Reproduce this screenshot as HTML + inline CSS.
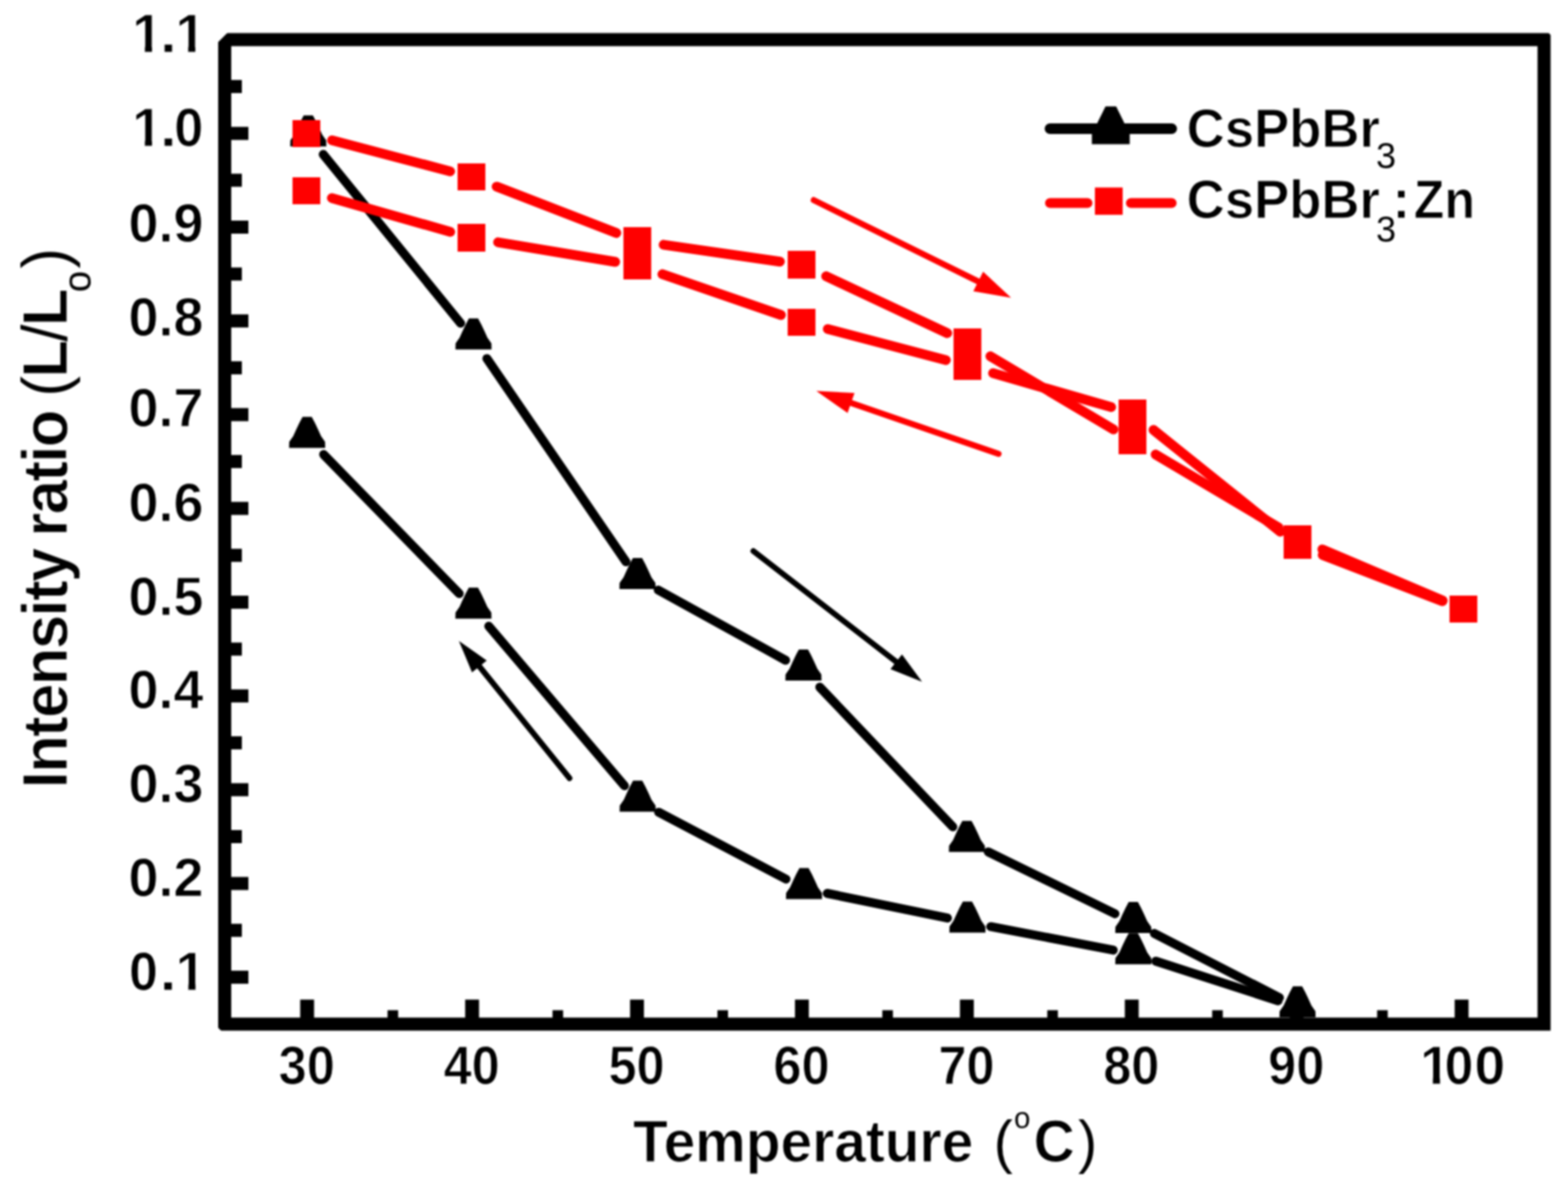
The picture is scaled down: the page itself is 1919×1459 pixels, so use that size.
<!DOCTYPE html>
<html><head><meta charset="utf-8"><title>Intensity ratio vs Temperature</title>
<style>html,body{margin:0;padding:0;background:#fff;overflow:hidden}svg{display:block}</style>
</head><body>
<svg width="1919" height="1459" viewBox="0 0 1919 1459">
<rect x="0" y="0" width="1919" height="1459" fill="#fff"/>
<defs><filter id="soft" x="-5%" y="-5%" width="110%" height="110%" color-interpolation-filters="sRGB"><feGaussianBlur stdDeviation="0.9"/></filter></defs>
<g filter="url(#soft)">
<defs><clipPath id="one" clipPathUnits="userSpaceOnUse"><polygon points="-10,-100 60,-100 60,-8.9 24.30,-8.9 24.30,5 15.60,5 15.60,-8.9 -10,-8.9"/></clipPath></defs>
<g>
<path d="M395.6 189.0L563.7 395.6M595.9 438.9L766.1 687.6M805.6 722.2L961.4 808.1M1003.3 841.1L1166.1 1012.0M1209.5 1042.8L1364.5 1118.4M1412.8 1142.6L1565.8 1221.1" stroke="#000" stroke-width="11" stroke-linecap="round" fill="none"/>
<path d="M1414.6 1176.5L1564.2 1224.9M1212.5 1134.2L1362.4 1162.9M1012.4 1093.5L1159.5 1123.7M806.1 994.2L961.9 1076.0M598.2 766.5L764.2 961.7M396.1 556.3L562.0 726.5" stroke="#000" stroke-width="11" stroke-linecap="round" fill="none"/>
</g>
<g fill="#000">
<polygon points="371.7,141.3 382.9,141.3 386.9,148.8 390.7,156.8 394.3,164.8 399.2,171.8 399.4,179.3 355.2,179.3 355.4,171.8 360.3,164.8 363.9,156.8 367.7,148.8"/>
<polygon points="370.3,510.3 381.5,510.3 385.5,517.8 389.3,525.8 392.9,533.8 397.8,540.8 398.0,548.3 353.8,548.3 354.0,540.8 358.9,533.8 362.5,525.8 366.3,517.8"/>
<polygon points="573.9,389.7 585.1,389.7 589.1,397.2 592.9,405.2 596.5,413.2 601.4,420.2 601.6,427.7 557.4,427.7 557.6,420.2 562.5,413.2 566.1,405.2 569.9,397.2"/>
<polygon points="573.8,719.2 585.0,719.2 589.0,726.7 592.8,734.7 596.4,742.7 601.3,749.7 601.5,757.2 557.3,757.2 557.5,749.7 562.4,742.7 566.0,734.7 569.8,726.7"/>
<polygon points="774.6,683.0 785.8,683.0 789.8,690.5 793.6,698.5 797.2,706.5 802.1,713.5 802.3,721.0 758.1,721.0 758.3,713.5 763.2,706.5 766.8,698.5 770.6,690.5"/>
<polygon points="774.8,955.5 786.0,955.5 790.0,963.0 793.8,971.0 797.4,979.0 802.3,986.0 802.5,993.5 758.3,993.5 758.5,986.0 763.4,979.0 767.0,971.0 770.8,963.0"/>
<polygon points="977.7,794.9 988.9,794.9 992.9,802.4 996.7,810.4 1000.3,818.4 1005.2,825.4 1005.4,832.9 961.2,832.9 961.4,825.4 966.3,818.4 969.9,810.4 973.7,802.4"/>
<polygon points="978.4,1062.4 989.6,1062.4 993.6,1069.9 997.4,1077.9 1001.0,1085.9 1005.9,1092.9 1006.1,1100.4 961.9,1100.4 962.1,1092.9 967.0,1085.9 970.6,1077.9 974.4,1069.9"/>
<polygon points="1177.8,1004.8 1189.0,1004.8 1193.0,1012.3 1196.8,1020.3 1200.4,1028.3 1205.3,1035.3 1205.5,1042.8 1161.3,1042.8 1161.5,1035.3 1166.4,1028.3 1170.0,1020.3 1173.8,1012.3"/>
<polygon points="1178.4,1103.5 1189.6,1103.5 1193.6,1111.0 1197.4,1119.0 1201.0,1127.0 1205.9,1134.0 1206.1,1141.5 1161.9,1141.5 1162.1,1134.0 1167.0,1127.0 1170.6,1119.0 1174.4,1111.0"/>
<polygon points="1381.4,1104.1 1392.6,1104.1 1396.6,1111.6 1400.4,1119.6 1404.0,1127.6 1408.9,1134.6 1409.1,1142.1 1364.9,1142.1 1365.1,1134.6 1370.0,1127.6 1373.6,1119.6 1377.4,1111.6"/>
<polygon points="1381.4,1142.3 1392.6,1142.3 1396.6,1149.8 1400.4,1157.8 1404.0,1165.8 1408.9,1172.8 1409.1,1180.3 1364.9,1180.3 1365.1,1172.8 1370.0,1165.8 1373.6,1157.8 1377.4,1149.8"/>
<polygon points="1582.4,1207.3 1593.6,1207.3 1597.6,1214.8 1601.4,1222.8 1605.0,1230.8 1609.9,1237.8 1610.1,1245.3 1565.9,1245.3 1566.1,1237.8 1571.0,1230.8 1574.6,1222.8 1578.4,1214.8"/>
</g>
<path d="M406.4 171.8L550.9 209.7M607.8 228.4L754.3 285.2M812.2 299.6L954.5 320.2M1011.1 338.1L1159.3 407.7M1212.1 436.1L1362.7 525.6M1414.3 556.3L1564.8 645.7M1618.4 672.4L1765.6 734.9" stroke="#ff0000" stroke-width="12" stroke-linecap="round" fill="none"/>
<path d="M1618.8 679.4L1765.3 735.8M1411.7 526.3L1566.9 650.7M1215.4 456.8L1359.9 498.3M1013.1 402.7L1157.6 440.8M810.7 335.6L955.7 385.5M609.6 296.6L752.9 320.5M406.2 242.4L551.0 283.8" stroke="#ff0000" stroke-width="12" stroke-linecap="round" fill="none"/>
<g fill="#ff0000" shape-rendering="crispEdges">
<rect x="357.5" y="146.6" width="34" height="33.6"/>
<rect x="357.5" y="216.5" width="34" height="33.6"/>
<rect x="560.0" y="199.7" width="34" height="33.6"/>
<rect x="560.0" y="274.4" width="34" height="33.6"/>
<rect x="762.5" y="278.1" width="34" height="33.6"/>
<rect x="762.5" y="308.1" width="34" height="33.6"/>
<rect x="964.2" y="307.3" width="34" height="33.6"/>
<rect x="964.2" y="377.5" width="34" height="33.6"/>
<rect x="1166.7" y="402.4" width="34" height="33.6"/>
<rect x="1166.7" y="430.9" width="34" height="33.6"/>
<rect x="1368.9" y="488.9" width="34" height="33.6"/>
<rect x="1368.9" y="522.6" width="34" height="33.6"/>
<rect x="1571.0" y="642.7" width="34" height="33.6"/>
<rect x="1571.0" y="650.8" width="34" height="33.6"/>
<rect x="1773.5" y="728.7" width="34" height="33.6"/>
</g>
<path d="M996.0 245.0L1202.5 347.2" stroke="#ff0000" stroke-width="7.5" stroke-linecap="round" fill="none"/><polygon fill="#ff0000" points="1237.5,364.5 1191.2,356.6 1203.2,332.4"/>
<path d="M1222.0 555.5L1035.9 491.2" stroke="#ff0000" stroke-width="7.5" stroke-linecap="round" fill="none"/><polygon fill="#ff0000" points="999.0,478.5 1045.8,480.9 1037.3,505.5"/>
<path d="M922.0 674.5L1101.6 813.7" stroke="#000" stroke-width="7" stroke-linecap="round" fill="none"/><polygon fill="#000" points="1128.5,834.5 1089.8,819.1 1103.9,800.9"/>
<path d="M697.0 952.5L582.9 811.0" stroke="#000" stroke-width="7" stroke-linecap="round" fill="none"/><polygon fill="#000" points="561.6,784.5 595.7,808.4 577.7,822.9"/>
<rect x="275.0" y="48.5" width="1614.7" height="1205.0" fill="none" stroke="#000" stroke-width="16" stroke-linejoin="miter"/>
<g fill="#fff"><polygon points="264,38 280.5,38 264,54.5"/><polygon points="264,1255 264,1263 272,1263"/><polygon points="1893,38 1899.5,38 1899.5,44.5"/></g>
<g fill="#000"><rect x="282.0" y="1188.1" width="22" height="16"/><rect x="282.0" y="1130.7" width="14" height="16"/><rect x="282.0" y="1073.4" width="22" height="16"/><rect x="282.0" y="1016.0" width="14" height="16"/><rect x="282.0" y="958.6" width="22" height="16"/><rect x="282.0" y="901.2" width="14" height="16"/><rect x="282.0" y="843.8" width="22" height="16"/><rect x="282.0" y="786.5" width="14" height="16"/><rect x="282.0" y="729.1" width="22" height="16"/><rect x="282.0" y="671.7" width="14" height="16"/><rect x="282.0" y="614.3" width="22" height="16"/><rect x="282.0" y="556.9" width="14" height="16"/><rect x="282.0" y="499.5" width="22" height="16"/><rect x="282.0" y="442.2" width="14" height="16"/><rect x="282.0" y="384.8" width="22" height="16"/><rect x="282.0" y="327.4" width="14" height="16"/><rect x="282.0" y="270.0" width="22" height="16"/><rect x="282.0" y="212.6" width="14" height="16"/><rect x="282.0" y="155.3" width="22" height="16"/><rect x="282.0" y="97.9" width="14" height="16"/><rect x="367.4" y="1223.5" width="17" height="23"/><rect x="474.3" y="1236.5" width="13" height="10"/><rect x="569.3" y="1223.5" width="17" height="23"/><rect x="676.2" y="1236.5" width="13" height="10"/><rect x="771.1" y="1223.5" width="17" height="23"/><rect x="878.0" y="1236.5" width="13" height="10"/><rect x="972.9" y="1223.5" width="17" height="23"/><rect x="1079.8" y="1236.5" width="13" height="10"/><rect x="1174.8" y="1223.5" width="17" height="23"/><rect x="1281.7" y="1236.5" width="13" height="10"/><rect x="1376.6" y="1223.5" width="17" height="23"/><rect x="1483.5" y="1236.5" width="13" height="10"/><rect x="1578.4" y="1223.5" width="17" height="23"/><rect x="1685.4" y="1236.5" width="13" height="10"/><rect x="1780.3" y="1223.5" width="17" height="23"/></g>
<g font-family="'Liberation Sans', Arial, Helvetica, sans-serif" fill="#000" stroke="#fff" stroke-width="1.0" stroke-linejoin="round">
<text transform="translate(158.10 1212.02) scale(0.959 1)" font-size="66" font-weight="bold">0</text><text transform="translate(195.60 1212.02) scale(1.117 1)" font-size="66" font-weight="bold">.</text><text transform="translate(214.94 1212.02)" font-size="66" font-weight="bold" clip-path="url(#one)">1</text>
<text transform="translate(249.00 1096.86)" font-size="66" font-weight="bold" text-anchor="end">0.2</text>
<text transform="translate(249.00 982.20)" font-size="66" font-weight="bold" text-anchor="end">0.3</text>
<text transform="translate(249.00 867.43)" font-size="66" font-weight="bold" text-anchor="end">0.4</text>
<text transform="translate(249.00 753.37)" font-size="66" font-weight="bold" text-anchor="end">0.5</text>
<text transform="translate(249.00 637.51)" font-size="66" font-weight="bold" text-anchor="end">0.6</text>
<text transform="translate(249.00 522.45)" font-size="66" font-weight="bold" text-anchor="end">0.7</text>
<text transform="translate(249.00 411.29)" font-size="66" font-weight="bold" text-anchor="end">0.8</text>
<text transform="translate(249.00 296.02)" font-size="66" font-weight="bold" text-anchor="end">0.9</text>
<text transform="translate(161.74 179.36)" font-size="66" font-weight="bold" clip-path="url(#one)">1</text><text transform="translate(195.89 179.36) scale(1.095 1)" font-size="66" font-weight="bold">.</text><text transform="translate(213.27 179.36) scale(0.969 1)" font-size="66" font-weight="bold">0</text>
<text transform="translate(161.74 64.10)" font-size="66" font-weight="bold" clip-path="url(#one)">1</text><text transform="translate(195.89 64.10) scale(1.095 1)" font-size="66" font-weight="bold">.</text><text transform="translate(214.74 64.10)" font-size="66" font-weight="bold" clip-path="url(#one)">1</text>
<text transform="translate(375.42 1327.00) scale(0.935 1)" font-size="66" font-weight="bold" text-anchor="middle">30</text>
<text transform="translate(577.26 1327.00) scale(0.935 1)" font-size="66" font-weight="bold" text-anchor="middle">40</text>
<text transform="translate(779.09 1327.00) scale(0.935 1)" font-size="66" font-weight="bold" text-anchor="middle">50</text>
<text transform="translate(980.93 1327.00) scale(0.935 1)" font-size="66" font-weight="bold" text-anchor="middle">60</text>
<text transform="translate(1182.77 1327.00) scale(0.935 1)" font-size="66" font-weight="bold" text-anchor="middle">70</text>
<text transform="translate(1384.61 1327.00) scale(0.935 1)" font-size="66" font-weight="bold" text-anchor="middle">80</text>
<text transform="translate(1586.44 1327.00) scale(0.935 1)" font-size="66" font-weight="bold" text-anchor="middle">90</text>
<text transform="translate(1738.04 1327.00)" font-size="66" font-weight="bold" clip-path="url(#one)">1</text><text transform="translate(1768.11 1327.00) scale(0.956 1)" font-size="66" font-weight="bold">0</text><text transform="translate(1804.52 1327.00) scale(1.026 1)" font-size="66" font-weight="bold">0</text>
<text transform="translate(774.80 1421.50) scale(0.96 1)" font-size="72.5" font-weight="bold">Temperature</text>
<text transform="translate(1216.20 1421.50) scale(0.96 1)" font-size="72.5" font-weight="normal" stroke="none">(</text>
<text transform="translate(1240.90 1380.50)" font-size="36" font-weight="normal" stroke="none">o</text>
<text transform="translate(1265.10 1421.50) scale(0.96 1)" font-size="72.5" font-weight="bold">C</text>
<text transform="translate(1319.60 1421.50) scale(0.96 1)" font-size="72.5" font-weight="normal" stroke="none">)</text>
<g transform="translate(82 964) rotate(-90) scale(0.96 1)" font-size="78.5" font-weight="bold" letter-spacing="-2">
<text x="-0.98" y="0">Intensity</text>
<text x="319.9" y="0">ratio</text>
<text x="498.5" y="0"><tspan font-weight="normal" stroke="none">(</tspan>L<tspan font-weight="normal" stroke="none">/</tspan>L</text>
<text x="631.5" y="28.8" font-size="49" font-weight="normal" stroke="none" letter-spacing="0">o</text>
<text x="661.9" y="0" font-weight="normal" stroke="none">)</text>
</g>
</g>
<path d="M1285 157.5H1434" stroke="#000" stroke-width="13" stroke-linecap="round"/>
<polygon points="1353,130.3 1366,130.3 1382.6,164 1382.6,176.5 1336.3,176.5 1336.3,164"/>
<path d="M1285 248.5H1331M1384 248.5H1434" stroke="#ff0000" stroke-width="12" stroke-linecap="round"/>
<rect x="1340" y="229.5" width="34" height="33.4" fill="#ff0000"/>
<g font-family="'Liberation Sans', Arial, Helvetica, sans-serif" fill="#000" stroke="#fff" stroke-width="1.0" stroke-linejoin="round">
<text transform="translate(1452.30 179.50) scale(0.97 1)" font-size="66.5" font-weight="bold">CsPbBr</text>
<text transform="translate(1684.00 205.90)" font-size="44.3" font-weight="normal" stroke="none">3</text>
<text transform="translate(1452.30 267.00) scale(0.97 1)" font-size="66.5" font-weight="bold">CsPbBr</text>
<text transform="translate(1684.00 296.40)" font-size="44.3" font-weight="normal" stroke="none">3</text>
<text transform="translate(1704.20 267.00) scale(0.97 1)" font-size="66.5" font-weight="bold">:</text>
<text transform="translate(1730.30 267.00) scale(0.92 1)" font-size="66.5" font-weight="bold">Zn</text>
</g>
</g>
</svg>
</body></html>
